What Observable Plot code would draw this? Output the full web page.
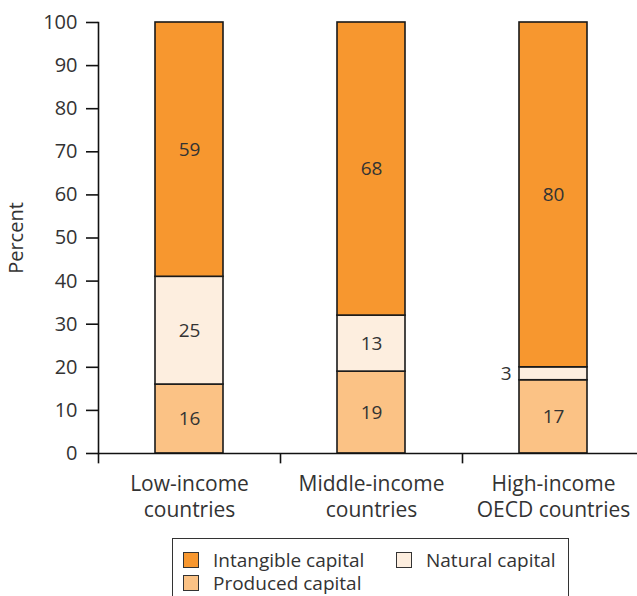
<!DOCTYPE html>
<html>
<head>
<meta charset="utf-8">
<script src="https://cdn.jsdelivr.net/npm/d3@7"></script>
<script src="https://cdn.jsdelivr.net/npm/@observablehq/plot@0.6"></script>
<style>
  html, body { margin: 0; padding: 0; background: #fff; }
  #wrap { position: relative; width: 637px; height: 596px; overflow: hidden; font-family: "Open Sans", sans-serif; }
  #legend { position: absolute; left: 172px; top: 538px; width: 397px; height: 58px; border: 1.5px solid #333; border-bottom: none; box-sizing: border-box; font-size: 19px; color: #333; }
  .item { position: absolute; display: flex; align-items: center; white-space: nowrap; height: 20px; line-height: 20px; }
  .sw { width: 14px; height: 14px; border: 1.2px solid #333; margin-right: 14px; }
</style>
</head>
<body>
<div id="wrap"><div id="chart"></div><div id="legend"></div></div>
<script>
const categories = ["Low-income countries", "Middle-income countries", "High-income OECD countries"];
const categoryLines = [["Low-income", "countries"], ["Middle-income", "countries"], ["High-income", "OECD countries"]];
const seriesNames = ["Produced capital", "Natural capital", "Intangible capital"];
const produced = [16, 19, 17];
const natural = [25, 13, 3];
const intangible = [59, 68, 80];
const seriesColors = ["#FBC285", "#FDEEDF", "#F7972F"];
const yTicks = [0, 10, 20, 30, 40, 50, 60, 70, 80, 90, 100];

const seriesValues = [produced, natural, intangible];
const data = [];
seriesNames.forEach((s, si) => categories.forEach((c, ci) => data.push({category: c, series: s, value: seriesValues[si][ci]})));

const font = "'Open Sans', sans-serif";
const stackOpts = {x: "category", y: "value", z: "series", order: seriesNames};

const chart = Plot.plot({
  width: 637,
  height: 530,
  marginLeft: 98,
  marginRight: 0,
  marginTop: 22,
  marginBottom: 77,
  style: {fontFamily: font, fontSize: "19px", color: "#333", background: "#fff", overflow: "visible"},
  x: {type: "band", domain: categories, range: [98, 644], padding: 0},
  y: {domain: [0, 100]},
  color: {domain: seriesNames, range: seriesColors},
  marks: [
    Plot.barY(data, Plot.stackY({...stackOpts, fill: "series", stroke: "#1a1a1a", strokeWidth: 1.6, insetLeft: 57, insetRight: 57})),
    Plot.text(data, Plot.stackY({...stackOpts, text: d => d.value >= 5 ? String(d.value) : "", fill: "#333", fontSize: 19})),
    Plot.text(data, Plot.stackY({...stackOpts, text: d => d.value < 5 ? String(d.value) : "", fill: "#333", fontSize: 19, textAnchor: "end", dx: -42})),
    Plot.frame({anchor: "left", stroke: "#111", strokeWidth: 1.6}),
    Plot.ruleY([0], {stroke: "#111", strokeWidth: 1.6}),
    Plot.ruleX(categories, {x: d => d, dx: -91, y1: 0, y2: -2.4, stroke: "#111", strokeWidth: 1.6}),
    Plot.axisY(yTicks, {tickSize: 12, tickPadding: 9, fontSize: 20, fill: "#333", stroke: "#111", strokeWidth: 1.6, label: "Percent", labelArrow: "none", labelAnchor: "center", labelOffset: 90}),
    Plot.axisX({ticks: [], label: null}),
    Plot.text(categories, {x: d => d, y: 0, text: d => categoryLines[categories.indexOf(d)].join("\n"), lineAnchor: "top", lineHeight: 1.2, dy: 20, fontSize: 21, fill: "#333"})
  ]
});
document.getElementById("chart").appendChild(chart);

const legend = document.getElementById("legend");
const legendItems = [
  {name: "Intangible capital", left: 10, top: 11},
  {name: "Natural capital", left: 223, top: 11},
  {name: "Produced capital", left: 10, top: 34}
];
legendItems.forEach(it => {
  const el = document.createElement("div");
  el.className = "item";
  el.style.left = it.left + "px";
  el.style.top = it.top + "px";
  const sw = document.createElement("div");
  sw.className = "sw";
  sw.style.background = seriesColors[seriesNames.indexOf(it.name)];
  el.appendChild(sw);
  const t = document.createElement("span");
  t.textContent = it.name;
  el.appendChild(t);
  legend.appendChild(el);
});
</script>
</body>
</html>
